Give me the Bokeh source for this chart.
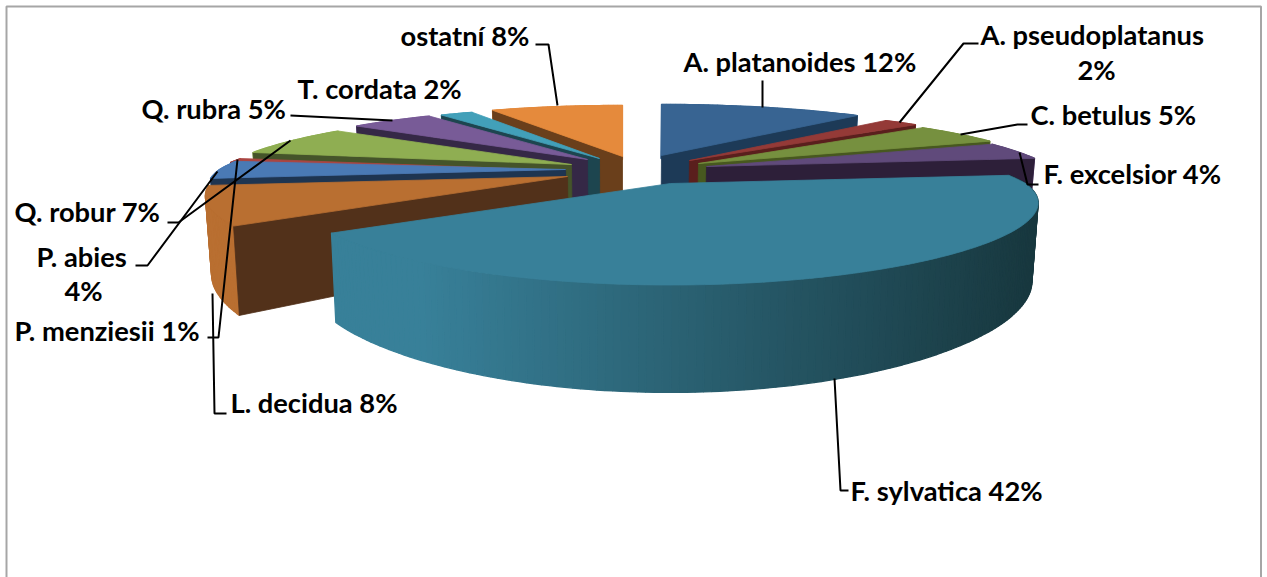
import math
from bokeh.plotting import figure
from bokeh.models import Range1d
from bokeh.core.properties import value
from bokeh.embed import file_html
from bokeh.resources import INLINE

# ---------- data ----------
species = ["A. platanoides", "A. pseudoplatanus", "C. betulus", "F. excelsior", "F. sylvatica", "L. decidua",
           "P. abies", "P. menziesii", "Q. robur", "Q. rubra", "T. cordata", "ostatní"]
shares = [12, 2, 5, 4, 42, 8, 4, 1, 7, 5, 2, 8]

# ---------- styles ----------
top_colors = ["#386492", "#943a37", "#76903f", "#604a7b", "#388099", "#b96f31",
              "#4a7ab5", "#ab4643", "#8fae52", "#785b97", "#42a0b9", "#e58a3c"]
cut_colors = ["#1d3a57", "#5a1f1d", "#47581f", "#2d1f39", "#18383f", "#52311a",
              "#1e3551", "#5f2322", "#45542a", "#352846", "#1d454f", "#6a3f1b"]
# screen position of each slice's tip (explosion) and its drawn reach
tip_x = [661, 689, 698, 706, 670, 567, 565, 565, 571, 587, 599, 622]
tip_y = [155, 160, 163, 166, 183, 176, 169, 170, 164, 159, 158, 156]
reach = [1.0, 1.0, 0.99, 0.97, 1.0, 0.985, 0.975, 0.99, 0.97, 0.96, 0.96, 0.98]
paint_order = [11, 10, 9, 8, 7, 6, 5, 0, 1, 2, 3, 4]

S, V, K, K_FRONT, H, VX, SHRINK = 355, 68, 0.33, 0.26, 72, 620, 0.985


def proj(i, deg, low=False):
    t = math.radians(deg)
    s, c = math.sin(t), math.cos(t)
    w = 1 + K * c
    wx = 1 + (K if c > 0 else K_FRONT) * c
    x = tip_x[i] + reach[i] * S * s / wx
    y = tip_y[i] - V * c / w
    if low:
        x = VX + (x - VX) * SHRINK
        y += H / w
    return x, y


def tip(i, low=False):
    x, y = tip_x[i], tip_y[i]
    if low:
        x = VX + (x - VX) * SHRINK
        y += H
    return x, y


def lerp_hex(a, b, f):
    ca = [int(a[j:j + 2], 16) for j in (1, 3, 5)]
    cb = [int(b[j:j + 2], 16) for j in (1, 3, 5)]
    return "#%02x%02x%02x" % tuple(round(u + (v - u) * f) for u, v in zip(ca, cb))


p = figure(width=1267, height=577, output_backend="svg", toolbar_location=None,
           x_range=Range1d(0, 1267), y_range=Range1d(577, 0), min_border=0,
           outline_line_color=None, background_fill_color="white", border_fill_color="white")
p.axis.visible = False
p.grid.visible = False

# chart frame
p.line([6, 6, 1260.5, 1260.5], [577, 6, 6, 577], line_color="#a6a6a6", line_width=2)


def poly(pts, color, lw=0.8):
    p.patch([q[0] for q in pts], [q[1] for q in pts], fill_color=color, line_color=color, line_width=lw)


starts, acc = [], 0.0
for v in shares:
    starts.append(acc)
    acc += v * 3.6

for i in paint_order:
    a0 = starts[i]
    a1 = a0 + shares[i] * 3.6
    n = max(3, int(a1 - a0))
    angs = [a0 + (a1 - a0) * j / n for j in range(n + 1)]
    # outer wall
    for j in range(n):
        a, b = angs[j], angs[j + 1]
        if species[i] == "F. sylvatica":
            xm = proj(i, (a + b) / 2)[0]
            f = max(0.0, min(1.0, (xm - 420) / (1030 - 420)))
            col = lerp_hex(top_colors[i], cut_colors[i], f)
        else:
            col = top_colors[i]
        poly([proj(i, a), proj(i, b), proj(i, b, True), proj(i, a, True)], col, 1.3)
    # cut face (the largest slice shows none)
    if species[i] != "F. sylvatica":
        edge = a1 if (a0 + a1) / 2 < 180 else a0
        poly([tip(i), proj(i, edge), proj(i, edge, True), tip(i, True)], cut_colors[i])
    # top face
    poly([tip(i)] + [proj(i, a) for a in angs], top_colors[i])

# leader lines
leaders = [
    ([535, 548, 557], [44, 44, 105]),
    ([762, 762], [80, 107]),
    ([978, 963, 899], [43, 43, 122]),
    ([1027, 1017, 960], [124, 124, 134]),
    ([1019, 1027, 1038], [152, 184, 184]),
    ([834, 840, 848], [378, 490, 490]),
    ([226, 214, 212], [413, 413, 293]),
    ([207, 218, 237], [337, 337, 159]),
    ([135, 147, 217], [265, 265, 171]),
    ([167, 178, 290], [222, 222, 140]),
    ([290, 392], [115, 120]),
]
for xs, ys in leaders:
    p.line(xs, ys, line_color="black", line_width=2)

# labels
labels = [
    ("ostatní 8%", 400, 35), ("A. platanoides 12%", 683, 61), ("A. pseudoplatanus", 980, 34), ("2%", 1077, 69),
    ("C. betulus 5%", 1030, 114), ("F. excelsior 4%", 1043, 173), ("F. sylvatica 42%", 850, 490),
    ("L. decidua 8%", 230, 402), ("P. menziesii 1%", 14, 330), ("P. abies", 36, 256), ("4%", 64, 290),
    ("Q. robur 7%", 14, 211), ("Q. rubra 5%", 141, 108), ("T. cordata 2%", 297, 88),
]
p.text([l[1] for l in labels], [l[2] for l in labels], text=[l[0] for l in labels],
       text_font=value("Lato"), text_font_style="bold", text_font_size="27.3px",
       text_color="black", text_baseline="middle", text_align="left")

open("out.html", "w").write(file_html(p, INLINE))
